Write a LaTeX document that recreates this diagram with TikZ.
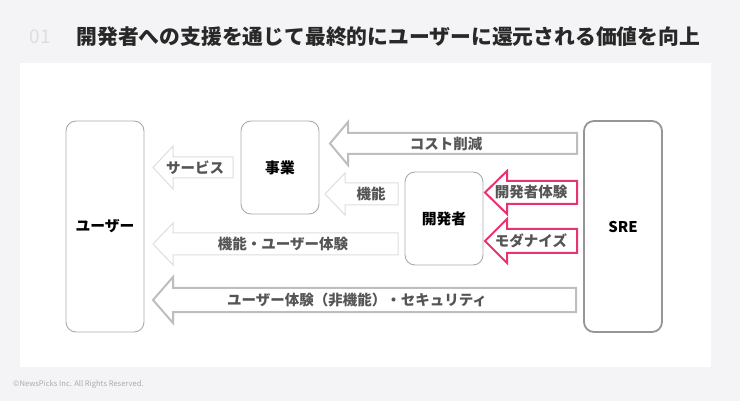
\documentclass[tikz,border=0pt]{standalone}
\usepackage{fontspec}
\setmainfont{Noto Sans CJK JP}
\usepackage{tikz}
\usetikzlibrary{positioning, calc}
\definecolor{pagebg}{RGB}{244, 244, 246}
\definecolor{boxgray}{RGB}{170, 170, 170}
\definecolor{sregray}{RGB}{150, 150, 150}
\definecolor{arrowgray}{RGB}{190, 190, 190}
\definecolor{lightgray}{RGB}{222, 222, 222}
\definecolor{accentpink}{RGB}{232, 52, 110}
\definecolor{labelgray}{RGB}{85, 85, 85}
\definecolor{titlegray}{RGB}{40, 40, 40}
\tikzset{
  actor/.style={draw=boxgray, line width=0.9pt, fill=white, rounded corners=10pt, font=\fontsize{14.8}{14.8}\selectfont\bfseries},
  blockgray/.style={draw=arrowgray, line width=2pt, fill=white, line join=miter},
  blocklight/.style={draw=lightgray, line width=1pt, fill=white, line join=miter},
  blockpink/.style={draw=accentpink, line width=2pt, fill=white, line join=miter},
  flowlabel/.style={text=labelgray, font=\fontsize{14.5}{14.5}\selectfont\bfseries, inner sep=0pt}
}
\begin{document}
\begin{tikzpicture}[x=1pt, y=-1pt]

    % Page and panel
    \fill[pagebg] (0,0) rectangle (740,401);
    \useasboundingbox (0,0) rectangle (740,401);
    \fill[white] (20,63) rectangle (711,367);

    % Title
    \node[anchor=west, text=lightgray, font=\fontsize{19}{19}\selectfont] (num) at (26,37) {01};
    \node[anchor=west, text=titlegray, font=\fontsize{20.8}{20.8}\selectfont\bfseries] (title) at (73,37) {開発者への支援を通じて最終的にユーザーに還元される価値を向上};

    % Actors
    \node[actor, minimum width=78pt, minimum height=211pt] (user) at (105,226.5) {ユーザー};
    \node[actor, minimum width=78pt, minimum height=93pt] (biz) at (280,167.5) {事業};
    \node[actor, minimum width=78pt, minimum height=93pt] (dev) at (444,218.5) {開発者};
    \node[actor, draw=sregray, line width=1.8pt, minimum width=78pt, minimum height=211pt] (sre) at (623,226.5) {SRE};

    % SRE -> business : cost
    \draw[blockgray] (577,133) -- (348,133) -- (348,122) -- (330,143.5) -- (348,165) -- (348,154) -- (577,154) -- cycle;
    \node[flowlabel] (cost) at (446,143.5) {コスト削減};

    % Business -> user : service
    \draw[blocklight] (233,157) -- (173,157) -- (173,146) -- (153,167.5) -- (173,189) -- (173,178) -- (233,178) -- cycle;
    \node[flowlabel] (service) at (195,167.5) {サービス};

    % Developer -> business : features
    \draw[blocklight] (398,183) -- (345,183) -- (345,173) -- (325,194) -- (345,215) -- (345,205) -- (398,205) -- cycle;
    \node[flowlabel] (feat) at (371,194) {機能};

    % Developer -> user : features and UX
    \draw[blocklight] (398,233) -- (173,233) -- (173,223) -- (153,244) -- (173,265) -- (173,255) -- (398,255) -- cycle;
    \node[flowlabel] (featux) at (283,244) {機能・ユーザー体験};

    % SRE -> developer
    \draw[blockpink] (577,181) -- (507,181) -- (507,171) -- (485,192.5) -- (507,214) -- (507,204) -- (577,204) -- cycle;
    \node[flowlabel] (devex) at (531,192.5) {開発者体験};
    \draw[blockpink] (577,229) -- (507,229) -- (507,219) -- (485,241) -- (507,263) -- (507,253) -- (577,253) -- cycle;
    \node[flowlabel] (modern) at (531,241) {モダナイズ};

    % SRE -> user : non-functional
    \draw[blockgray] (576,288) -- (173,288) -- (173,277) -- (153,300) -- (173,323) -- (173,312) -- (576,312) -- cycle;
    \node[flowlabel] (nonfunc) at (357,300) {ユーザー体験（非機能）・セキュリティ};

    % Footer
    \node[anchor=west, text=boxgray, font=\fontsize{7.6}{7.6}\selectfont, inner sep=0pt] (copy) at (13,384) {©NewsPicks Inc. All Rights Reserved.};

\end{tikzpicture}
\end{document}
